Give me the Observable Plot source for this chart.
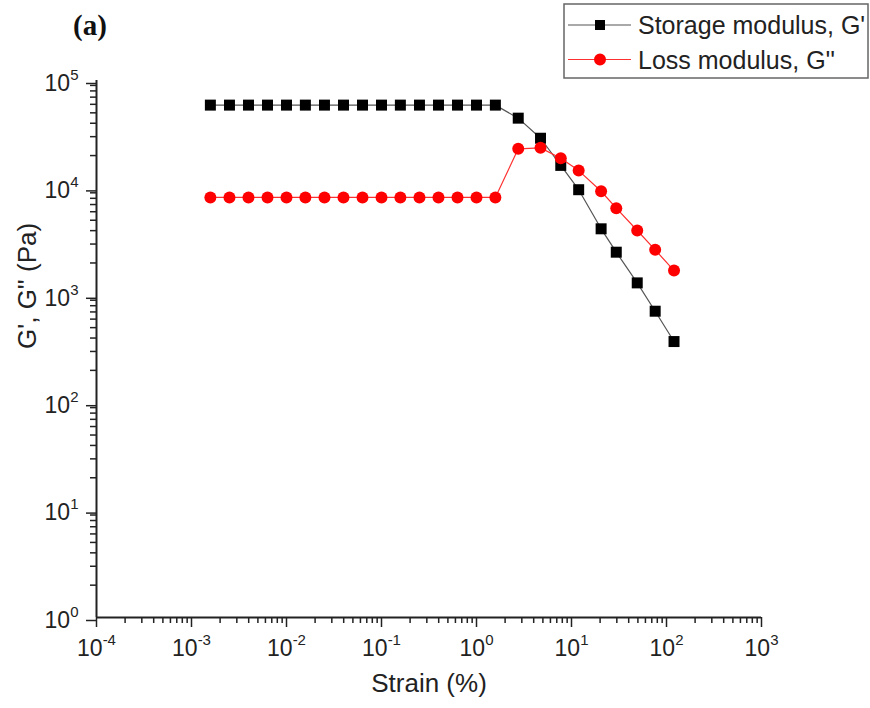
<!DOCTYPE html>
<html>
<head>
<meta charset="utf-8">
<script src="https://cdn.jsdelivr.net/npm/d3@7"></script>
<script src="https://cdn.jsdelivr.net/npm/@observablehq/plot@0.6"></script>
<style>
  body { margin: 0; background: #fff; }
  #wrap { position: relative; width: 870px; height: 708px; font-family: "Liberation Sans", Arial, sans-serif; }
  #overlay { position: absolute; left: 0; top: 0; pointer-events: none; }
</style>
</head>
<body>
<div id="wrap"></div>
<script>
// ---- data ----
const strain = [0.00158, 0.00251, 0.00398, 0.00631, 0.01, 0.0158, 0.0251, 0.0398, 0.0631, 0.1,
                0.158, 0.251, 0.398, 0.631, 1.0, 1.58, 2.75, 4.72, 7.71, 11.9, 20.5, 29.6, 49.2, 76.0, 120];
const storage = [59000, 59000, 59000, 59000, 59000, 59000, 59000, 59000, 59000, 59000,
                 59000, 59000, 59000, 59000, 59000, 59000, 44600, 29000, 16200, 9620, 4160, 2520, 1305, 711, 371];
const loss = [8150, 8150, 8150, 8150, 8150, 8150, 8150, 8150, 8150, 8150,
              8150, 8150, 8150, 8150, 8150, 8150, 23100, 23600, 18900, 14500, 9310, 6480, 4010, 2650, 1700];
const seriesNames = ["Storage modulus, G'", "Loss modulus, G''"];
const xLabel = "Strain (%)";
const yLabel = "G', G'' (Pa)";
const panelTag = "(a)";
const xMajor = [1e-4, 1e-3, 1e-2, 1e-1, 1e0, 1e1, 1e2, 1e3];
const yMajor = [1e0, 1e1, 1e2, 1e3, 1e4, 1e5];

const minorOf = (majors) => majors.slice(0, -1).flatMap(m => [2,3,4,5,6,7,8,9].map(k => k * m));
const xMinor = minorOf(xMajor);
const yMinor = minorOf(yMajor);

const storageData = strain.map((s, i) => ({strain: s, G: storage[i]}));
const lossData = strain.map((s, i) => ({strain: s, G: loss[i]}));

const fmt = d => "10^" + Math.round(Math.log10(d));
const font = '"Liberation Sans", Arial, sans-serif';

const plot = Plot.plot({
  width: 870, height: 708,
  marginLeft: 96, marginRight: 109, marginTop: 80, marginBottom: 91,
  style: {fontFamily: font, fontSize: "22px", color: "#222", background: "white", overflow: "visible"},
  x: {type: "log", domain: [1e-4, 1e3], label: null},
  y: {type: "log", domain: [1, 1e5], label: null},
  marks: [
    Plot.axisX({ticks: xMinor, tickSize: 6, tickFormat: () => "", label: null, strokeWidth: 1.5}),
    Plot.axisX({ticks: xMajor, tickSize: 10, tickPadding: 12, tickFormat: fmt, label: null, strokeWidth: 1.5, fontSize: 23}),
    Plot.axisY({ticks: yMinor, tickSize: 6, tickFormat: () => "", label: null, strokeWidth: 1.5}),
    Plot.axisY({ticks: yMajor, tickSize: 10, tickPadding: 8, tickFormat: fmt, label: null, strokeWidth: 1.5, dy: 3, fontSize: 23}),
    Plot.ruleY([1], {stroke: "#222", strokeWidth: 2}),
    Plot.ruleX([1e-4], {stroke: "#222", strokeWidth: 2}),
    Plot.line(storageData, {x: "strain", y: "G", stroke: "#555", strokeWidth: 1.2}),
    Plot.dot(storageData, {x: "strain", y: "G", symbol: "square", fill: "black", r: 6.2}),
    Plot.line(lossData, {x: "strain", y: "G", stroke: "#ff3030", strokeWidth: 1.2}),
    Plot.dot(lossData, {x: "strain", y: "G", symbol: "circle", fill: "#ff0000", r: 6}),
    Plot.text([xLabel], {text: d => d, frameAnchor: "bottom", dy: 74, fontSize: 26, fill: "#222"}),
    Plot.text([yLabel], {text: d => d, frameAnchor: "left", dx: -69, rotate: -90, fontSize: 26, fill: "#222"})
  ]
});

// superscript exponents on tick labels
const NS = "http://www.w3.org/2000/svg";
plot.querySelectorAll("text").forEach(t => {
  const m = t.textContent.match(/^10\^(.+)$/);
  if (!m) return;
  t.textContent = "10";
  const ts = document.createElementNS(NS, "tspan");
  ts.setAttribute("dy", "-11");
  ts.setAttribute("font-size", "15");
  ts.textContent = m[1];
  t.appendChild(ts);
});

const wrap = document.getElementById("wrap");
wrap.appendChild(plot);

// overlay: panel tag and legend
const ov = d3.select(wrap).append("svg").attr("id", "overlay").attr("width", 870).attr("height", 708);
ov.append("text").attr("x", 73).attr("y", 35)
  .attr("font-family", '"Liberation Serif", "Times New Roman", serif')
  .attr("font-weight", "bold").attr("font-size", 29).attr("fill", "#111").text(panelTag);

const lg = ov.append("g").attr("transform", "translate(564,4)");
lg.append("rect").attr("x", 0).attr("y", 0).attr("width", 304).attr("height", 74)
  .attr("fill", "white").attr("stroke", "#666").attr("stroke-width", 1.5);
const legendItems = [
  {name: seriesNames[0], line: "#555", fill: "black", sym: d3.symbolSquare, size: 100},
  {name: seriesNames[1], line: "#ff3030", fill: "#ff0000", sym: d3.symbolCircle, size: 113}
];
legendItems.forEach((it, i) => {
  const g = lg.append("g").attr("transform", `translate(0,${21 + i * 34.5})`);
  g.append("line").attr("x1", 4).attr("x2", 67).attr("y1", 0).attr("y2", 0)
    .attr("stroke", it.line).attr("stroke-width", 1.2);
  g.append("path").attr("d", d3.symbol(it.sym, it.size)()).attr("transform", "translate(36,0)").attr("fill", it.fill);
  g.append("text").attr("x", 74).attr("y", 0).attr("dy", "0.36em")
    .attr("font-family", font).attr("font-size", 25).attr("fill", "#222").text(it.name);
});
</script>
</body>
</html>
